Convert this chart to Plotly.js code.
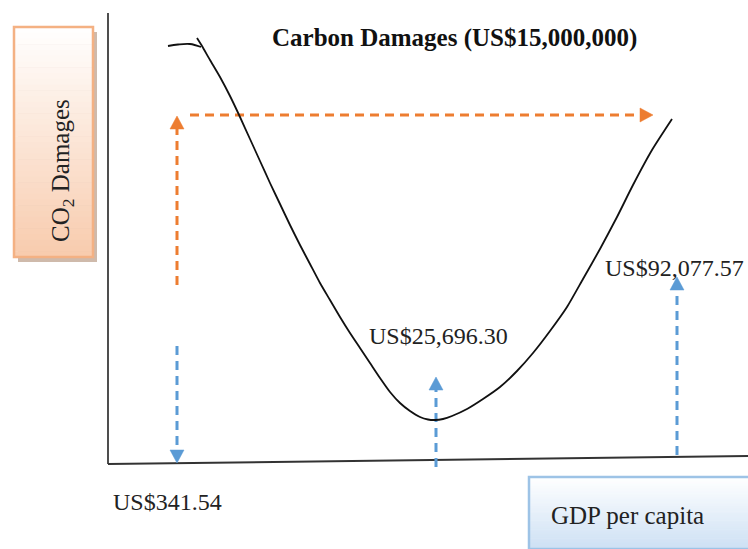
<!DOCTYPE html>
<html>
<head>
<meta charset="utf-8">
<script src="https://cdn.plot.ly/plotly-3.0.1.min.js"></script>
<style>html,body{margin:0;padding:0;background:#fff;}#chart{width:748px;height:549px;}</style>
</head>
<body>
<div id="chart"></div>
<script>
// Diagram coordinate space (x to the right, y downward)
const curveX = [197, 202, 210, 220, 230, 240, 250, 260, 270, 280, 290, 300, 310, 320, 330, 340, 350, 360, 370, 380, 390, 400, 410, 420, 428, 435, 443, 452, 467, 483, 500, 517, 533, 550, 567, 583, 600, 617, 633, 652, 672];
const curveY = [38, 46, 60, 77, 96, 117, 139, 161, 183, 204, 225, 245, 264, 283, 300, 317, 333, 348, 363, 378, 392, 403, 411, 417, 419.5, 420, 419, 416, 409, 399, 387, 371, 353, 331, 307, 279, 249, 217, 185, 150, 119];
const hookX = [168, 178, 190, 201];
const hookY = [46, 44.5, 44, 47];

const yAxisX = [108, 108];
const yAxisY = [13, 464];
const xAxisX = [108, 748];
const xAxisY = [464, 456];

// dashed guide arrows: [x0, y0, x1(tip), y1(tip)]
const orangeArrows = [[177, 285, 177, 116], [190, 115, 653, 115]];
const blueArrows = [[177, 346, 177, 463], [436, 467, 436, 377], [677, 455, 677, 277]];

const labelText = ["US$341.54", "US$25,696.30", "US$92,077.57"];
const labelX = [111, 367, 603];
const labelY = [502, 336, 268];

const titleText = "Carbon Damages (US$15,000,000)";
const yBoxText = "CO<sub>2</sub> Damages";
const xBoxText = "GDP per capita";
const yBox = [14, 27, 93, 257];   // x0, y0, x1, y1
const xBox = [529, 477, 760, 549];

const ORANGE = "#ED7D31", BLUE = "#5B9BD5";
const traces = [];
const shapes = [];

function mix(c0, c1, t) {
  const r = Math.round(c0[0] + (c1[0]-c0[0])*t), g = Math.round(c0[1] + (c1[1]-c0[1])*t), b = Math.round(c0[2] + (c1[2]-c0[2])*t);
  return "rgb(" + r + "," + g + "," + b + ")";
}
function gradientBox(b, c0, c1, border) {
  const N = 40, h = (b[3]-b[1]) / N;
  for (let i = 0; i < N; i++) {
    shapes.push({type: "rect", xref: "x", yref: "y", layer: "below", x0: b[0], x1: b[2],
      y0: b[1] + i*h, y1: b[1] + (i+1)*h + 0.6, fillcolor: mix(c0, c1, (i+0.5)/N), line: {width: 0}});
  }
  shapes.push({type: "rect", xref: "x", yref: "y", layer: "below", x0: b[0], x1: b[2], y0: b[1], y1: b[3],
    fillcolor: "rgba(0,0,0,0)", line: {color: border, width: 2.5}});
}
// shadow of left box
shapes.push({type: "rect", xref: "x", yref: "y", layer: "below", x0: yBox[0]+4, x1: yBox[2]+4, y0: yBox[1]+5, y1: yBox[3]+5,
  fillcolor: "rgba(175,140,115,0.6)", line: {width: 0}});
gradientBox(yBox, [255, 255, 255], [248, 203, 173], "#F4B183");
gradientBox(xBox, [255, 255, 255], [205, 224, 244], "#9DC3E6");

// axes
traces.push({x: yAxisX, y: yAxisY, mode: "lines", line: {color: "#222", width: 1.6}, hoverinfo: "skip", showlegend: false});
traces.push({x: xAxisX, y: xAxisY, mode: "lines", line: {color: "#333", width: 2}, hoverinfo: "skip", showlegend: false});

function headTrace(a, color) {
  const dx = a[2]-a[0], dy = a[3]-a[1], L = Math.hypot(dx, dy);
  const ux = dx/L, uy = dy/L, len = 13, half = 7;
  const bx = a[2]-ux*len, by = a[3]-uy*len;
  return {x: [a[2], bx-uy*half, bx+uy*half, a[2]], y: [a[3], by+ux*half, by-ux*half, a[3]],
    mode: "lines", fill: "toself", fillcolor: color, line: {color: color, width: 0.5},
    hoverinfo: "skip", showlegend: false};
}
function shaftTrace(a, color) {
  const dx = a[2]-a[0], dy = a[3]-a[1], L = Math.hypot(dx, dy);
  return {x: [a[0], a[2]-dx/L*12], y: [a[1], a[3]-dy/L*12], mode: "lines",
    line: {color: color, width: 3, dash: "9px,6px"}, hoverinfo: "skip", showlegend: false};
}
orangeArrows.forEach(a => { traces.push(shaftTrace(a, ORANGE)); traces.push(headTrace(a, ORANGE)); });
blueArrows.forEach(a => { traces.push(shaftTrace(a, BLUE)); traces.push(headTrace(a, BLUE)); });

// curve
traces.push({x: hookX, y: hookY, mode: "lines", line: {color: "#111", width: 1.8, shape: "spline"}, hoverinfo: "skip", showlegend: false});
traces.push({x: curveX, y: curveY, mode: "lines", line: {color: "#111", width: 1.8, shape: "spline", smoothing: 0.6}, hoverinfo: "skip", showlegend: false});

const FONT = "Liberation Serif";
const annotations = labelText.map((t, i) => ({x: labelX[i], y: labelY[i], xref: "x", yref: "y",
  text: t, showarrow: false, xanchor: "left", yanchor: "middle",
  font: {family: FONT, size: 24, color: "#222"}}));
annotations.push({x: 270, y: 38, xref: "x", yref: "y", text: "<b>" + titleText + "</b>", showarrow: false,
  xanchor: "left", yanchor: "middle", font: {family: FONT, size: 25, color: "#111"}});
annotations.push({x: 62, y: 171, xref: "x", yref: "y", text: yBoxText, showarrow: false, textangle: -90,
  xanchor: "center", yanchor: "middle", font: {family: FONT, size: 25, color: "#222"}});
annotations.push({x: 549, y: 515, xref: "x", yref: "y", text: xBoxText, showarrow: false,
  xanchor: "left", yanchor: "middle", font: {family: FONT, size: 25, color: "#222"}});

const layout = {
  width: 748, height: 549, margin: {l: 0, r: 0, t: 0, b: 0},
  paper_bgcolor: "#fff", plot_bgcolor: "rgba(0,0,0,0)", showlegend: false,
  xaxis: {range: [0, 748], visible: false, fixedrange: true},
  yaxis: {range: [549, 0], visible: false, fixedrange: true},
  shapes: shapes,
  annotations: annotations
};
Plotly.newPlot("chart", traces, layout, {staticPlot: true, displayModeBar: false});
</script>
</body>
</html>
